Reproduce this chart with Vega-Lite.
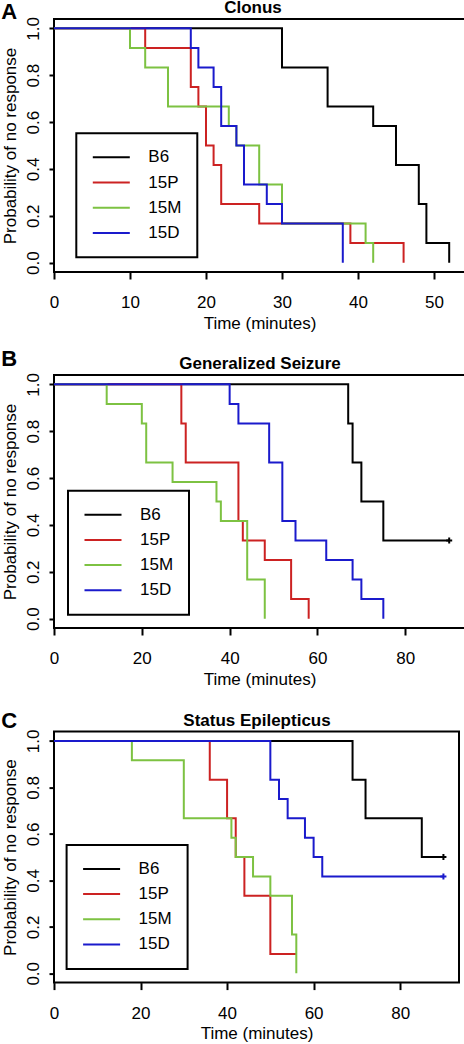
{
  "$schema": "https://vega.github.io/schema/vega-lite/v6.json",
  "padding": {"left": 0, "top": -3, "right": 0, "bottom": 0},
  "background": "white",
  "config": {
    "font": "Liberation Sans",
    "view": {"stroke": "black", "strokeWidth": 2},
    "axis": {"domain": false, "grid": false, "ticks": true, "tickColor": "black", "tickWidth": 2, "labelColor": "black", "titleColor": "black", "labelFont": "Liberation Sans", "titleFont": "Liberation Sans", "labelFontSize": 17, "titleFontSize": 17, "titleFontWeight": "normal", "labelFlush": false, "labelOverlap": false, "labelBound": false},
    "axisX": {"tickSize": 7, "labelPadding": 15.5, "titlePadding": 4.8},
    "axisY": {"tickSize": 5, "labelAngle": 270, "labelAlign": "center", "labelBaseline": "alphabetic", "labelPadding": 10.7, "titlePadding": 5},
    "legend": {"orient": "none", "strokeColor": "black", "strokeWidth": 2, "fillColor": "white", "padding": 15.5, "symbolType": "stroke", "symbolSize": 1369, "symbolStrokeWidth": 2, "labelFont": "Liberation Sans", "labelFontSize": 17, "labelColor": "black", "labelOffset": 17.5, "rowPadding": 7.2, "clipHeight": 17, "symbolOffset": 0},
    "title": {"font": "Liberation Sans", "fontSize": 22, "fontWeight": "bold", "color": "black", "anchor": "start", "frame": "bounds", "baseline": "alphabetic"}
  },
  "datasets": {
    "A": [
      {"g": "B6", "t": 0, "s": 1}, {"g": "B6", "t": 30, "s": 0.8333}, {"g": "B6", "t": 36, "s": 0.6667}, {"g": "B6", "t": 42, "s": 0.5833}, {"g": "B6", "t": 45, "s": 0.4167}, {"g": "B6", "t": 48, "s": 0.25}, {"g": "B6", "t": 49, "s": 0.0833}, {"g": "B6", "t": 52, "s": 0},
      {"g": "15P", "t": 0, "s": 1}, {"g": "15P", "t": 12, "s": 0.9167}, {"g": "15P", "t": 18, "s": 0.75}, {"g": "15P", "t": 19, "s": 0.6667}, {"g": "15P", "t": 20, "s": 0.5}, {"g": "15P", "t": 21, "s": 0.4167}, {"g": "15P", "t": 22, "s": 0.25}, {"g": "15P", "t": 27, "s": 0.1667}, {"g": "15P", "t": 39, "s": 0.0833}, {"g": "15P", "t": 46, "s": 0},
      {"g": "15M", "t": 0, "s": 1}, {"g": "15M", "t": 10, "s": 0.9167}, {"g": "15M", "t": 12, "s": 0.8333}, {"g": "15M", "t": 15, "s": 0.6667}, {"g": "15M", "t": 23, "s": 0.5833}, {"g": "15M", "t": 24, "s": 0.5}, {"g": "15M", "t": 27, "s": 0.3333}, {"g": "15M", "t": 30, "s": 0.1667}, {"g": "15M", "t": 41, "s": 0.0833}, {"g": "15M", "t": 42, "s": 0},
      {"g": "15D", "t": 0, "s": 1}, {"g": "15D", "t": 18, "s": 0.9167}, {"g": "15D", "t": 19, "s": 0.8333}, {"g": "15D", "t": 21, "s": 0.75}, {"g": "15D", "t": 22, "s": 0.5833}, {"g": "15D", "t": 24, "s": 0.5}, {"g": "15D", "t": 25, "s": 0.3333}, {"g": "15D", "t": 28, "s": 0.25}, {"g": "15D", "t": 30, "s": 0.1667}, {"g": "15D", "t": 38, "s": 0}
    ],
    "B": [
      {"g": "B6", "t": 0, "s": 1}, {"g": "B6", "t": 67, "s": 0.8333}, {"g": "B6", "t": 68, "s": 0.6667}, {"g": "B6", "t": 70, "s": 0.5}, {"g": "B6", "t": 75, "s": 0.3333}, {"g": "B6", "t": 90, "s": 0.3333},
      {"g": "15P", "t": 0, "s": 1}, {"g": "15P", "t": 29, "s": 0.8333}, {"g": "15P", "t": 30, "s": 0.6667}, {"g": "15P", "t": 42, "s": 0.4167}, {"g": "15P", "t": 43, "s": 0.3333}, {"g": "15P", "t": 48, "s": 0.25}, {"g": "15P", "t": 54, "s": 0.0833}, {"g": "15P", "t": 58, "s": 0},
      {"g": "15M", "t": 0, "s": 1}, {"g": "15M", "t": 12, "s": 0.9167}, {"g": "15M", "t": 20, "s": 0.8333}, {"g": "15M", "t": 21, "s": 0.6667}, {"g": "15M", "t": 27, "s": 0.5833}, {"g": "15M", "t": 37, "s": 0.5}, {"g": "15M", "t": 38, "s": 0.4167}, {"g": "15M", "t": 44, "s": 0.1667}, {"g": "15M", "t": 48, "s": 0},
      {"g": "15D", "t": 0, "s": 1}, {"g": "15D", "t": 40, "s": 0.9167}, {"g": "15D", "t": 42, "s": 0.8333}, {"g": "15D", "t": 49, "s": 0.6667}, {"g": "15D", "t": 52, "s": 0.4167}, {"g": "15D", "t": 55, "s": 0.3333}, {"g": "15D", "t": 62, "s": 0.25}, {"g": "15D", "t": 68, "s": 0.1667}, {"g": "15D", "t": 70, "s": 0.0833}, {"g": "15D", "t": 75, "s": 0}
    ],
    "C": [
      {"g": "B6", "t": 0, "s": 1}, {"g": "B6", "t": 69, "s": 0.8333}, {"g": "B6", "t": 72, "s": 0.6667}, {"g": "B6", "t": 85, "s": 0.5}, {"g": "B6", "t": 90, "s": 0.5},
      {"g": "15P", "t": 0, "s": 1}, {"g": "15P", "t": 36, "s": 0.8333}, {"g": "15P", "t": 40, "s": 0.6667}, {"g": "15P", "t": 42, "s": 0.5}, {"g": "15P", "t": 44, "s": 0.3333}, {"g": "15P", "t": 50, "s": 0.0833}, {"g": "15P", "t": 56, "s": 0.0833},
      {"g": "15M", "t": 0, "s": 1}, {"g": "15M", "t": 18, "s": 0.9167}, {"g": "15M", "t": 30, "s": 0.6667}, {"g": "15M", "t": 41, "s": 0.5833}, {"g": "15M", "t": 42, "s": 0.5}, {"g": "15M", "t": 46, "s": 0.4167}, {"g": "15M", "t": 50, "s": 0.3333}, {"g": "15M", "t": 55, "s": 0.1667}, {"g": "15M", "t": 56, "s": 0},
      {"g": "15D", "t": 0, "s": 1}, {"g": "15D", "t": 50, "s": 0.8333}, {"g": "15D", "t": 52, "s": 0.75}, {"g": "15D", "t": 54, "s": 0.6667}, {"g": "15D", "t": 58, "s": 0.5833}, {"g": "15D", "t": 60, "s": 0.5}, {"g": "15D", "t": 62, "s": 0.4167}, {"g": "15D", "t": 90, "s": 0.4167}
    ],
    "censA": [],
    "censB": [
      {"g": "B6", "t": 90, "s": 0.3333}
    ],
    "censC": [
      {"g": "B6", "t": 90, "s": 0.5},
      {"g": "15D", "t": 90, "s": 0.4167}
    ]
  },
  "spacing": 14,
  "resolve": {"scale": {"color": "independent", "stroke": "independent"}, "legend": {"color": "independent", "stroke": "independent"}},
  "vconcat": [
    {
      "title": {"text": "A", "offset": -25.6},
      "width": 411,
      "height": 253,
      "resolve": {"axis": {"x": "independent"}},
      "layer": [
        {
          "data": {"name": "A"},
          "mark": {"type": "line", "interpolate": "step-after", "strokeWidth": 2},
          "encoding": {
            "x": {"field": "t", "type": "quantitative", "scale": {"domain": [0, 54.08], "nice": false, "zero": false}, "axis": {"orient": "bottom", "values": [0, 10, 20, 30, 40, 50], "format": "d", "title": "Time (minutes)"}},
            "y": {"field": "s", "type": "quantitative", "scale": {"domain": [-0.04, 1.04], "nice": false, "zero": false}, "axis": {"values": [0, 0.2, 0.4, 0.6, 0.8, 1], "format": ".1f", "title": "Probability of no response"}},
            "color": {"field": "g", "type": "nominal", "scale": {"domain": ["B6", "15P", "15M", "15D"], "range": ["#000000", "#cc2222", "#7dc242", "#1a1acc"]}, "legend": {"title": null, "legendX": 22.3, "legendY": 114.3}}
          }
        },
        {
          "data": {"name": "censA"},
          "mark": {"type": "point", "shape": "M-1,0H1M0,-1V1", "filled": false, "strokeWidth": 2, "size": 36, "opacity": 1},
          "encoding": {
            "x": {"field": "t", "type": "quantitative", "scale": {"domain": [0, 54.08], "nice": false, "zero": false}, "axis": {"orient": "top", "title": "Clonus", "labels": false, "ticks": false, "domain": false, "titleFontWeight": "bold", "titlePadding": 2.5, "titleX": 198.5}},
            "y": {"field": "s", "type": "quantitative", "scale": {"domain": [-0.04, 1.04], "nice": false, "zero": false}, "axis": {"values": [0, 0.2, 0.4, 0.6, 0.8, 1], "format": ".1f", "title": "Probability of no response"}},
            "stroke": {"field": "g", "type": "nominal", "scale": {"domain": ["B6", "15P", "15M", "15D"], "range": ["#000000", "#cc2222", "#7dc242", "#1a1acc"]}, "legend": null}
          }
        }
      ]
    },
    {
      "spacing": 19.6,
      "resolve": {"scale": {"color": "independent", "stroke": "independent"}, "legend": {"color": "independent", "stroke": "independent"}},
      "vconcat": [
        {
          "title": {"text": "B", "offset": -16.6},
          "width": 411,
          "height": 253,
          "resolve": {"axis": {"x": "independent"}},
          "layer": [
            {
              "data": {"name": "B"},
              "mark": {"type": "line", "interpolate": "step-after", "strokeWidth": 2},
              "encoding": {
                "x": {"field": "t", "type": "quantitative", "scale": {"domain": [0, 93.6], "nice": false, "zero": false}, "axis": {"orient": "bottom", "values": [0, 20, 40, 60, 80], "format": "d", "title": "Time (minutes)"}},
                "y": {"field": "s", "type": "quantitative", "scale": {"domain": [-0.04, 1.04], "nice": false, "zero": false}, "axis": {"values": [0, 0.2, 0.4, 0.6, 0.8, 1], "format": ".1f", "title": "Probability of no response"}},
                "color": {"field": "g", "type": "nominal", "scale": {"domain": ["B6", "15P", "15M", "15D"], "range": ["#000000", "#cc2222", "#7dc242", "#1a1acc"]}, "legend": {"title": null, "legendX": 14, "legendY": 115.7}}
              }
            },
            {
              "data": {"name": "censB"},
              "mark": {"type": "point", "shape": "M-1,0H1M0,-1V1", "filled": false, "strokeWidth": 2, "size": 36, "opacity": 1},
              "encoding": {
                "x": {"field": "t", "type": "quantitative", "scale": {"domain": [0, 93.6], "nice": false, "zero": false}, "axis": {"orient": "top", "title": "Generalized Seizure", "labels": false, "ticks": false, "domain": false, "titleFontWeight": "bold", "titlePadding": 2.5}},
                "y": {"field": "s", "type": "quantitative", "scale": {"domain": [-0.04, 1.04], "nice": false, "zero": false}, "axis": {"values": [0, 0.2, 0.4, 0.6, 0.8, 1], "format": ".1f", "title": "Probability of no response"}},
                "stroke": {"field": "g", "type": "nominal", "scale": {"domain": ["B6", "15P", "15M", "15D"], "range": ["#000000", "#cc2222", "#7dc242", "#1a1acc"]}, "legend": null}
              }
            }
          ]
        },
        {
          "title": {"text": "C", "offset": -21.6},
          "width": 405,
          "height": 251,
          "resolve": {"axis": {"x": "independent"}},
          "layer": [
            {
              "data": {"name": "C"},
              "mark": {"type": "line", "interpolate": "step-after", "strokeWidth": 2},
              "encoding": {
                "x": {"field": "t", "type": "quantitative", "scale": {"domain": [0, 93.6], "nice": false, "zero": false}, "axis": {"orient": "bottom", "values": [0, 20, 40, 60, 80], "format": "d", "title": "Time (minutes)"}},
                "y": {"field": "s", "type": "quantitative", "scale": {"domain": [-0.04, 1.04], "nice": false, "zero": false}, "axis": {"values": [0, 0.2, 0.4, 0.6, 0.8, 1], "format": ".1f", "title": "Probability of no response"}},
                "color": {"field": "g", "type": "nominal", "scale": {"domain": ["B6", "15P", "15M", "15D"], "range": ["#000000", "#cc2222", "#7dc242", "#1a1acc"]}, "legend": {"title": null, "legendX": 12.6, "legendY": 113.3}}
              }
            },
            {
              "data": {"name": "censC"},
              "mark": {"type": "point", "shape": "M-1,0H1M0,-1V1", "filled": false, "strokeWidth": 2, "size": 36, "opacity": 1},
              "encoding": {
                "x": {"field": "t", "type": "quantitative", "scale": {"domain": [0, 93.6], "nice": false, "zero": false}, "axis": {"orient": "top", "title": "Status Epilepticus", "labels": false, "ticks": false, "domain": false, "titleFontWeight": "bold", "titlePadding": 2.5}},
                "y": {"field": "s", "type": "quantitative", "scale": {"domain": [-0.04, 1.04], "nice": false, "zero": false}, "axis": {"values": [0, 0.2, 0.4, 0.6, 0.8, 1], "format": ".1f", "title": "Probability of no response"}},
                "stroke": {"field": "g", "type": "nominal", "scale": {"domain": ["B6", "15P", "15M", "15D"], "range": ["#000000", "#cc2222", "#7dc242", "#1a1acc"]}, "legend": null}
              }
            }
          ]
        }
      ]
    }
  ]
}
